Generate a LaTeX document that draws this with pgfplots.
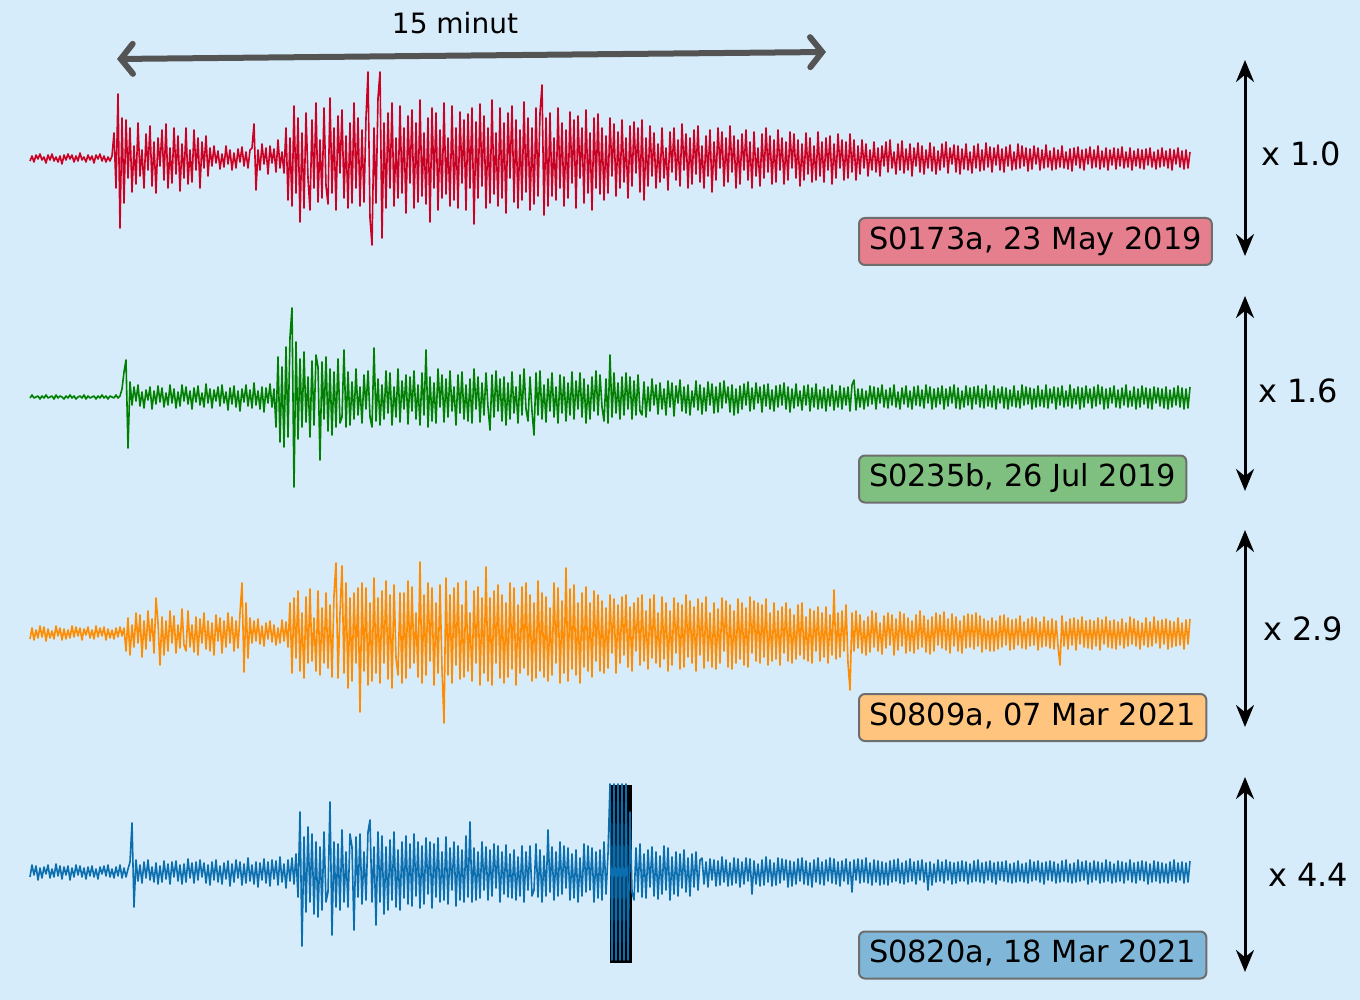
\documentclass[border=0pt]{standalone}
\usepackage{fontspec}
\setmainfont{DejaVu Sans}
\usepackage{pgfplots}
\usepackage{pgfplotstable}
\pgfplotsset{compat=1.18}
\usetikzlibrary{arrows.meta}
\definecolor{bg}{HTML}{D6ECFA}
\definecolor{cred}{HTML}{CC0022}
\definecolor{cgreen}{HTML}{007F00}
\definecolor{corange}{HTML}{FF8C00}
\definecolor{cblue}{HTML}{0A6EAF}
\definecolor{bred}{HTML}{E57F8E}
\definecolor{bgreen}{HTML}{7FBF7F}
\definecolor{borange}{HTML}{FFC57F}
\definecolor{bblue}{HTML}{80B6D8}
\definecolor{agray}{HTML}{545454}
\definecolor{edge}{HTML}{6E6E6E}
% trace values: offset in pixels from each trace's centre line, one value every 2 px from x=30
\pgfplotstableread[header=false,row sep=\\]{
3\\-2\\4\\-3\\1\\-4\\2\\-1\\5\\-3\\2\\-4\\3\\-1\\4\\-2\\6\\-3\\2\\-4\\1\\-3\\4\\-2\\3\\-5\\2\\-1\\4\\-3\\2\\-2\\5\\-3\\1\\-4\\3\\-2\\4\\-1\\3\\-2\\
-25\\30\\-64\\70\\-40\\45\\
-38\\20\\-30\\34\\-12\\26\\-35\\18\\-8\\30\\-24\\12\\-32\\28\\-16\\35\\-20\\8\\-28\\22\\-34\\30\\-10\\25\\-30\\16\\-22\\33\\-14\\20\\-30\\26\\-8\\24\\-28\\12\\-20\\30\\-16\\10\\-22\\18\\
-10\\8\\-12\\5\\-7\\11\\-4\\9\\-12\\6\\-8\\12\\-5\\10\\-9\\4\\-11\\8\\-6\\10\\-8\\
-10\\-34\\32\\
-8\\12\\-14\\6\\-10\\16\\-12\\5\\-9\\14\\-18\\10\\-6\\15\\
-30\\42\\-20\\48\\-52\\35\\-40\\64\\-25\\50\\-45\\20\\52\\-38\\30\\-55\\44\\-18\\40\\-50\\28\\46\\-60\\35\\-30\\52\\-42\\15\\-48\\40\\-22\\50\\-35\\45\\-55\\30\\-40\\48\\-28\\44\\
-40\\-86\\60\\87\\-30\\45\\-60\\-86\\80\\-35\\
50\\-45\\30\\-55\\48\\-20\\40\\-52\\35\\-30\\55\\-42\\25\\-48\\50\\-35\\44\\-58\\38\\-25\\46\\-40\\64\\-50\\30\\-45\\52\\-28\\40\\-55\\36\\-20\\48\\-52\\42\\-30\\50\\-46\\25\\-38\\52\\-44\\30\\-50\\66\\-36\\40\\-54\\28\\-42\\50\\-30\\45\\-58\\36\\-25\\48\\-50\\40\\-35\\55\\-45\\20\\-52\\44\\-38\\50\\-28\\42\\-56\\34\\-40\\52\\-30\\46\\-50\\38\\-45\\-73\\57\\-40\\48\\
-45\\38\\-20\\42\\-50\\30\\-35\\48\\-28\\40\\-46\\25\\-38\\50\\-42\\20\\-30\\45\\-48\\35\\-25\\52\\-40\\30\\-44\\
36\\-30\\42\\-22\\35\\-40\\18\\-34\\38\\-26\\30\\-38\\24\\-20\\40\\-32\\28\\-36\\15\\-30\\34\\
-38\\42\\-20\\
28\\-32\\18\\-25\\30\\-14\\24\\-30\\20\\-10\\32\\-26\\14\\-30\\22\\-18\\28\\-34\\12\\-24\\30\\-20\\26\\-28\\16\\-32\\24\\-12\\30\\-22\\18\\-28\\34\\-16\\22\\-30\\10\\-26\\28\\-20\\24\\-32\\14\\-22\\30\\-18\\26\\-24\\12\\-28\\22\\-16\\30\\-26\\18\\-10\\28\\-24\\20\\-30\\14\\-22\\26\\-18\\24\\-28\\12\\-20\\26\\-16\\22\\-26\\10\\-24\\20\\-18\\28\\-14\\22\\-25\\16\\-20\\24\\-12\\22\\-26\\18\\-16\\24\\-20\\12\\-22\\26\\-14\\20\\-24\\10\\-18\\22\\-16\\20\\-24\\14\\-18\\22\\-12\\
16\\-18\\10\\-14\\18\\-8\\12\\-16\\14\\-10\\18\\-12\\8\\-16\\14\\-18\\10\\-6\\16\\-14\\12\\-17\\15\\-9\\12\\-14\\18\\-10\\8\\-15\\14\\-12\\16\\-8\\10\\-15\\13\\-11\\16\\-7\\12\\-14\\9\\-16\\15\\-10\\6\\-13\\14\\-12\\16\\-9\\11\\-14\\12\\-6\\15\\-12\\10\\-14\\13\\-8\\12\\-15\\9\\-11\\14\\-10\\7\\-13\\12\\-9\\14\\-11\\8\\-13\\12\\-6\\11\\-14\\10\\-12\\8\\-10\\13\\-9\\11\\-12\\6\\-10\\12\\-8\\10\\-13\\9\\-7\\12\\-10\\11\\-8\\9\\-12\\10\\-6\\11\\-9\\13\\-10\\7\\-11\\10\\-8\\12\\-9\\6\\-11\\10\\-8\\9\\-12\\11\\-7\\9\\-10\\12\\-8\\7\\-10\\11\\-9\\8\\-11\\10\\-6\\9\\-10\\12\\-7\\8\\-9\\10\\-8\\11\\-9\\7\\-10\\9\\-6\\11\\-8\\9\\-10\\8\\-7\\10\\-9\\12\\-8\\6\\-10\\9\\-7\\11\\-8\\10\\-6\\
}\Tred
\pgfplotstableread[header=false,row sep=\\]{
1\\-2\\1\\0\\-1\\2\\-1\\1\\-2\\1\\0\\-1\\2\\-2\\1\\-1\\0\\2\\-1\\1\\-2\\1\\-1\\2\\0\\-1\\1\\-2\\2\\-1\\1\\0\\-1\\2\\-1\\1\\-2\\1\\-1\\2\\-1\\0\\1\\-2\\1\\-1\\
-8\\-25\\-37\\51\\-15\\
8\\-10\\4\\-12\\9\\-5\\11\\-7\\3\\-10\\12\\-6\\7\\-11\\5\\-9\\10\\-4\\8\\-12\\6\\-8\\11\\-5\\9\\-12\\4\\-10\\7\\-6\\12\\-9\\5\\-11\\8\\-4\\10\\-13\\6\\-8\\11\\-7\\4\\-10\\9\\-12\\6\\-5\\13\\-9\\7\\-11\\10\\-6\\14\\-8\\5\\-12\\9\\-7\\11\\-14\\8\\-6\\12\\-10\\15\\-9\\6\\-13\\10\\-8\\
30\\-40\\45\\-30\\50\\-50\\40\\-60\\-89\\90\\-55\\42\\
-38\\30\\-45\\25\\-20\\40\\-36\\28\\-42\\-30\\63\\-35\\22\\-40\\34\\-28\\38\\-25\\30\\-38\\26\\20\\-47\\30\\
-25\\28\\-15\\22\\-28\\18\\-10\\26\\-22\\12\\-26\\20\\30\\-49\\24\\-18\\28\\-12\\22\\-26\\16\\-24\\28\\-10\\20\\-28\\25\\-16\\12\\-22\\27\\-20\\14\\-26\\22\\-12\\28\\-24\\18\\-47\\30\\-20\\24\\-14\\26\\-28\\10\\-22\\25\\-18\\20\\-26\\14\\-10\\28\\-22\\16\\-25\\22\\-12\\24\\-18\\26\\-28\\12\\-20\\25\\-14\\18\\-24\\10\\33\\-22\\20\\-26\\14\\-18\\24\\-20\\28\\-14\\22\\-25\\16\\-10\\26\\-22\\18\\-28\\12\\24\\-20\\14\\38\\-24\\18\\-26\\22\\-12\\25\\-18\\14\\-24\\20\\-10\\26\\-22\\16\\-20\\24\\-14\\18\\-25\\22\\-16\\12\\-24\\20\\-18\\26\\-12\\22\\-20\\14\\-26\\18\\-22\\10\\24\\-18\\26\\-42\\20\\-24\\16\\-14\\22\\-20\\18\\-24\\12\\-20\\22\\-16\\18\\-22\\14\\
18\\-15\\20\\-10\\14\\-18\\8\\-12\\17\\-14\\12\\-8\\18\\-16\\10\\-14\\19\\-11\\6\\-17\\14\\-10\\16\\-12\\18\\-6\\10\\-16\\13\\-12\\17\\-9\\14\\-15\\8\\-13\\16\\-10\\15\\-14\\11\\-16\\6\\-10\\15\\-12\\18\\-8\\16\\-11\\12\\-13\\8\\-15\\14\\-9\\12\\-14\\6\\-10\\15\\-12\\9\\-13\\12\\-7\\14\\-11\\10\\-12\\8\\-14\\12\\-10\\15\\-8\\11\\-13\\9\\-6\\13\\-11\\8\\-12\\14\\-9\\10\\-13\\12\\-7\\11\\-10\\14\\-8\\9\\-12\\13\\-6\\10\\-11\\12\\-9\\8\\-10\\14\\-12\\-17\\13\\-8\\
10\\-8\\12\\-6\\9\\-11\\7\\-10\\12\\-9\\6\\-12\\10\\-7\\11\\-9\\8\\-12\\10\\-5\\12\\-9\\7\\-11\\10\\-6\\12\\-10\\8\\-11\\9\\-7\\11\\-12\\6\\-10\\12\\-8\\10\\-9\\7\\-11\\12\\-8\\9\\-10\\6\\-12\\11\\-9\\12\\-6\\10\\-11\\8\\-9\\12\\-10\\7\\-11\\10\\-8\\11\\-12\\9\\-6\\10\\-11\\12\\-8\\6\\-10\\11\\-9\\12\\-7\\9\\-11\\10\\-6\\11\\-12\\8\\-10\\7\\-9\\12\\-8\\10\\-11\\9\\-7\\10\\-12\\11\\-8\\6\\-10\\12\\-9\\8\\-11\\10\\-6\\9\\-12\\11\\-8\\7\\-10\\12\\-9\\10\\-11\\6\\-8\\11\\-10\\9\\-12\\7\\-10\\12\\-8\\11\\-9\\6\\-11\\10\\-7\\11\\-9\\8\\-12\\10\\-6\\9\\-10\\12\\-8\\10\\-11\\7\\-9\\11\\-8\\12\\-10\\6\\-9\\9\\-8\\11\\-10\\12\\-7\\10\\-9\\8\\-11\\10\\-9\\12\\-8\\11\\-10\\
}\Tgreen
\pgfplotstableread[header=false,row sep=\\]{
6\\-5\\7\\-3\\5\\-7\\4\\-6\\8\\-4\\5\\-2\\6\\-7\\3\\-5\\7\\-4\\6\\-3\\5\\-7\\4\\-6\\3\\-5\\7\\-4\\2\\-6\\5\\-3\\6\\-7\\4\\-5\\3\\-6\\7\\-4\\5\\-3\\6\\-5\\4\\-6\\3\\-5\\
18\\-15\\22\\-8\\14\\-20\\10\\-18\\24\\-12\\16\\-22\\8\\-14\\20\\-35\\-10\\32\\-16\\22\\-12\\18\\-22\\10\\-17\\20\\-8\\15\\-24\\12\\18\\-22\\14\\-8\\19\\-16\\22\\-14\\10\\-20\\16\\-12\\18\\-10\\22\\-18\\8\\-15\\20\\-12\\14\\-20\\10\\-16\\18\\-12\\15\\
-20\\-50\\39\\-30\\25\\-15\\
10\\-12\\8\\-14\\11\\-7\\13\\-10\\6\\-12\\9\\-8\\12\\-5\\10\\-13\\8\\-11\\14\\
-30\\40\\-35\\25\\-42\\38\\-20\\45\\-36\\30\\-44\\28\\-15\\38\\-42\\42\\-25\\30\\-40\\35\\-28\\44\\-38\\
-70\\45\\-20\\-67\\40\\-50\\55\\-35\\48\\-40\\30\\-45\\79\\
-50\\38\\-45\\52\\-30\\48\\-55\\40\\-35\\50\\-42\\30\\-52\\46\\-38\\55\\-48\\25\\42\\-40\\50\\-40\\45\\-52\\35\\-46\\30\\-20\\44\\-71\\50\\-38\\42\\-50\\28\\-45\\52\\-30\\40\\-48\\36\\90\\-55\\42\\-38\\50\\-45\\32\\-50\\46\\-28\\44\\-52\\38\\-20\\48\\-42\\30\\-46\\52\\-35\\40\\-66\\48\\-35\\52\\-42\\30\\-48\\45\\-38\\50\\-30\\44\\-50\\36\\-45\\52\\-28\\40\\-46\\35\\-50\\42\\-38\\48\\-30\\45\\-52\\38\\-40\\44\\-36\\48\\-25\\42\\-50\\30\\-45\\50\\-32\\40\\-65\\48\\-44\\36\\-48\\42\\-30\\50\\-40\\34\\-46\\38\\-30\\44\\-42\\28\\-38\\
38\\-32\\40\\-25\\35\\-38\\20\\-34\\40\\-28\\30\\-36\\22\\-38\\34\\-26\\38\\-30\\18\\-35\\32\\-38\\28\\-22\\36\\-34\\25\\-38\\30\\-20\\34\\-36\\26\\-30\\38\\-22\\32\\-35\\20\\-30\\36\\-28\\34\\-38\\24\\-32\\30\\-26\\38\\-34\\22\\-30\\35\\-36\\28\\-20\\34\\-30\\36\\-24\\30\\-35\\18\\-32\\34\\-28\\36\\-22\\30\\-34\\26\\-30\\32\\-25\\34\\-36\\20\\-32\\28\\-30\\30\\-28\\24\\-34\\32\\-20\\28\\-30\\26\\-22\\32\\-26\\20\\-30\\28\\-24\\30\\-18\\26\\-28\\22\\-30\\26\\-16\\28\\-24\\30\\-22\\18\\-26\\28\\-20\\24\\-26\\30\\-18\\22\\-43\\26\\-20\\24\\-22\\18\\-28\\30\\57\\
-20\\18\\-22\\15\\-18\\20\\-12\\22\\-16\\19\\-22\\14\\-20\\18\\-10\\21\\-17\\15\\-20\\12\\-18\\22\\-14\\17\\-21\\13\\-19\\20\\-15\\18\\-12\\20\\-18\\16\\-22\\14\\-17\\19\\-13\\21\\-16\\18\\-20\\12\\-18\\15\\-21\\17\\-14\\20\\-19\\13\\-16\\18\\-12\\20\\-17\\15\\-19\\14\\-18\\16\\-20\\13\\-17\\19\\-14\\16\\-12\\18\\-15\\18\\-12\\16\\-17\\14\\-18\\12\\-15\\17\\-13\\16\\-14\\12\\-17\\15\\-11\\16\\-14\\13\\-16\\12\\-15\\17\\-11\\14\\-16\\13\\-12\\15\\-14\\16\\-12\\13\\32\\-17\\13\\-11\\16\\-14\\12\\-15\\17\\-13\\11\\-16\\14\\-12\\15\\-13\\16\\-12\\13\\-15\\17\\-13\\11\\-16\\14\\-12\\15\\-13\\16\\-11\\12\\-14\\15\\-10\\13\\-16\\11\\-14\\13\\-12\\16\\-10\\12\\-15\\14\\-11\\13\\-16\\10\\-12\\15\\-13\\11\\-14\\16\\-12\\14\\-11\\13\\-15\\12\\-10\\16\\-13\\11\\-14\\
}\Torange
\pgfplotstableread[header=false,row sep=\\]{
5\\-7\\3\\-6\\8\\-4\\6\\-5\\2\\-7\\6\\-3\\5\\-8\\4\\-6\\7\\-5\\3\\-6\\8\\-4\\5\\-7\\3\\-6\\5\\-4\\7\\-5\\4\\-6\\5\\-3\\7\\-5\\2\\-6\\4\\-7\\5\\-3\\6\\-5\\4\\-7\\6\\-4\\5\\-3\\
-10\\-49\\35\\-12\\
9\\-7\\11\\-10\\6\\-12\\8\\-5\\10\\-9\\12\\-6\\10\\-11\\7\\-8\\12\\-10\\5\\-11\\9\\-7\\12\\-8\\10\\-13\\6\\-9\\11\\-10\\8\\-12\\5\\-9\\11\\-7\\13\\-10\\8\\-12\\10\\-6\\12\\-9\\7\\-11\\14\\-8\\10\\-12\\6\\-10\\13\\-8\\11\\-14\\9\\-7\\12\\-10\\15\\-9\\8\\-13\\11\\-10\\14\\-12\\7\\-11\\13\\-15\\10\\-8\\16\\-12\\9\\-14\\12\\
-18\\25\\-60\\74\\-35\\40\\-45\\30\\-38\\42\\-30\\45\\-25\\38\\-40\\30\\20\\-70\\63\\-30\\
35\\-28\\38\\-42\\30\\-20\\35\\-38\\-25\\58\\-35\\25\\-38\\32\\-20\\28\\-40\\-52\\30\\-25\\53\\-40\\30\\-36\\42\\-25\\38\\-32\\28\\-40\\35\\-22\\38\\-30\\26\\-36\\32\\-28\\34\\-38\\24\\-30\\36\\-26\\32\\-34\\22\\-30\\36\\-28\\25\\-34\\30\\-20\\28\\-35\\32\\-24\\18\\-30\\34\\-26\\28\\-22\\30\\-36\\25\\
-50\\30\\
-24\\28\\-20\\26\\-30\\18\\-25\\28\\-22\\24\\-28\\16\\-26\\30\\-20\\22\\-27\\25\\-18\\26\\-22\\28\\-15\\24\\-26\\30\\-20\\18\\-26\\24\\18\\-28\\25\\-22\\30\\-16\\24\\-42\\20\\-25\\28\\-20\\24\\-30\\22\\-26\\16\\-24\\28\\-18\\26\\-22\\30\\-14\\24\\-28\\20\\-26\\18\\-24\\30\\-20\\26\\-22\\28\\-30\\22\\-18\\
-88\\88\\-88\\88\\-88\\88\\-88\\88\\-88\\88\\-60\\20\\
28\\-24\\20\\-28\\25\\-18\\26\\-22\\15\\-25\\24\\-20\\27\\-16\\22\\-26\\18\\-24\\28\\-15\\22\\-20\\24\\-18\\16\\-22\\20\\-14\\24\\-18\\15\\-20\\18\\-12\\
-14\\12\\-10\\15\\-13\\8\\-12\\14\\-11\\13\\-15\\10\\-12\\14\\-9\\13\\-14\\11\\-13\\15\\-10\\12\\-14\\9\\-13\\22\\-11\\12\\-8\\14\\-12\\13\\-15\\10\\-12\\14\\-9\\13\\-14\\11\\-13\\8\\-12\\15\\-11\\14\\-10\\12\\-13\\9\\-14\\12\\-11\\13\\-9\\15\\-12\\10\\-14\\12\\-10\\13\\-12\\9\\-14\\11\\-13\\12\\-10\\14\\-11\\9\\-13\\12\\-10\\20\\-12\\8\\-13\\11\\-12\\10\\-14\\11\\-9\\13\\-12\\10\\-11\\13\\-10\\12\\-9\\13\\-11\\10\\-12\\9\\-13\\11\\-9\\12\\-11\\10\\-13\\9\\-10\\12\\-11\\8\\-12\\10\\-9\\18\\-10\\13\\-8\\10\\-12\\9\\-10\\11\\-12\\8\\-10\\12\\-9\\11\\-10\\9\\-11\\9\\-10\\12\\-8\\10\\-11\\9\\-12\\10\\-9\\11\\-10\\8\\-11\\10\\-9\\12\\-10\\8\\-10\\9\\-11\\10\\-8\\11\\-9\\10\\-11\\9\\-8\\10\\-9\\11\\-12\\9\\-10\\8\\-11\\10\\-9\\12\\-10\\8\\-11\\9\\-10\\11\\-8\\10\\-11\\9\\-12\\10\\-8\\11\\-9\\10\\-12\\9\\-10\\8\\-11\\12\\-9\\10\\-11\\8\\-10\\11\\-9\\10\\-12\\9\\-10\\11\\-8\\10\\-11\\9\\-10\\11\\-9\\8\\-12\\10\\-9\\11\\-10\\8\\-11\\9\\-10\\12\\-8\\10\\-11\\9\\-10\\11\\-9\\10\\-8\\11\\-10\\9\\-12\\10\\-9\\8\\-10\\11\\-9\\10\\-11\\
}\Tblue
\tikzset{lab/.style={anchor=west, draw=edge, line width=1pt, rounded corners=3pt,
  inner xsep=5pt, inner ysep=4.2pt, text height=11.5pt, text depth=3.6pt,
  font=\fontsize{15.2}{18}\selectfont},
  varr/.style={black, line width=1.5pt, {Stealth[length=11pt,width=9pt]}-{Stealth[length=11pt,width=9pt]}},
  tr/.style={line width=0.8pt, no marks, line join=round}}
\begin{document}
\begin{tikzpicture}
\begin{axis}[scale only axis, width=680pt, height=500pt,
  xmin=0, xmax=1360, ymin=0, ymax=1000, y dir=reverse,
  hide axis, clip=false]
\fill[bg] (axis cs:0,0) rectangle (axis cs:1360,1000);
\fill[black] (axis cs:610,785) rectangle (axis cs:632,963);
\addplot[cred, tr] table[x index=0, y index=0, x expr=30+2*\coordindex, y expr=158+\thisrowno{0}] {\Tred};
\addplot[cgreen, tr] table[x index=0, y index=0, x expr=30+2*\coordindex, y expr=397+\thisrowno{0}] {\Tgreen};
\addplot[corange, tr] table[x index=0, y index=0, x expr=30+2*\coordindex, y expr=633+\thisrowno{0}] {\Torange};
\addplot[cblue, tr] table[x index=0, y index=0, x expr=30+2*\coordindex, y expr=872+\thisrowno{0}] {\Tblue};
% time scale arrow
\draw[agray, line width=3pt, line cap=round,
  {Straight Barb[length=6pt,width=15pt,line cap=round]}-{Straight Barb[length=6pt,width=15pt,line cap=round]}]
  (axis cs:117,59) -- (axis cs:826,52);
\node[font=\fontsize{14}{17}\selectfont] at (axis cs:455,23) {15 minut};
% amplitude arrows
\draw[varr] (axis cs:1245,60) -- (axis cs:1245,256);
\draw[varr] (axis cs:1245,296) -- (axis cs:1245,491);
\draw[varr] (axis cs:1245,530) -- (axis cs:1245,727);
\draw[varr] (axis cs:1245,777) -- (axis cs:1245,972);
\node[font=\fontsize{16}{19}\selectfont] at (axis cs:1301,154) {x 1.0};
\node[font=\fontsize{16}{19}\selectfont] at (axis cs:1298,391) {x 1.6};
\node[font=\fontsize{16}{19}\selectfont] at (axis cs:1303,629) {x 2.9};
\node[font=\fontsize{16}{19}\selectfont] at (axis cs:1308,875) {x 4.4};
% labels
\node[lab, fill=bred] at (axis cs:858,241.5) {S0173a, 23 May 2019};
\node[lab, fill=bgreen] at (axis cs:858,479) {S0235b, 26 Jul 2019};
\node[lab, fill=borange] at (axis cs:858,717.5) {S0809a, 07 Mar 2021};
\node[lab, fill=bblue] at (axis cs:858,955) {S0820a, 18 Mar 2021};
\end{axis}
\end{tikzpicture}
\end{document}
